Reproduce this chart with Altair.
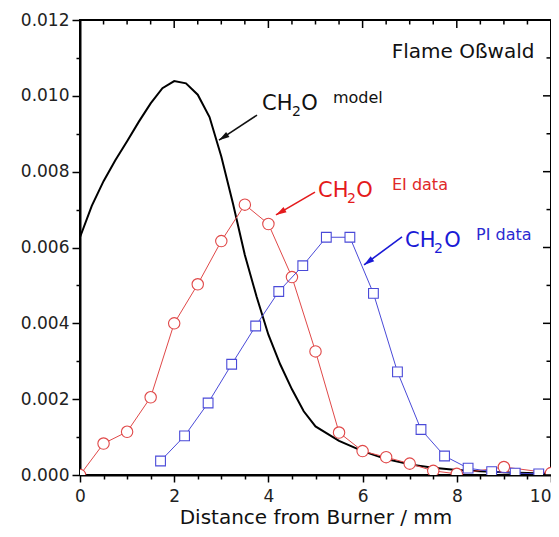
import altair as alt
import pandas as pd

# ---------------- data ----------------
model_x = [0, 0.25, 0.5, 0.75, 1.0, 1.25, 1.5, 1.75, 2.0, 2.25, 2.5, 2.75, 3.0, 3.25,
           3.5, 3.75, 4.0, 4.25, 4.5, 4.75, 5.0, 5.5, 6.0, 6.5, 7.0, 7.5, 8.0, 8.5,
           9.0, 9.5, 10.0]
model_y = [0.00627, 0.00710, 0.00775, 0.00830, 0.00880, 0.00932, 0.00980, 0.01020,
           0.01039, 0.01033, 0.01003, 0.00944, 0.00840, 0.00715, 0.00580, 0.00470,
           0.00370, 0.00292, 0.00226, 0.00168, 0.00128, 0.00090, 0.00063, 0.00042,
           0.00028, 0.00019, 0.00013, 0.00010, 0.00007, 0.00005, 0.00003]

ei_x = [0, 0.5, 1.0, 1.5, 2.0, 2.5, 3.0, 3.5, 4.0, 4.5, 5.0, 5.5, 6.0, 6.5, 7.0,
        7.5, 8.0, 9.0, 10.0]
ei_y = [0.0, 0.00083, 0.00114, 0.00205, 0.00400, 0.00503, 0.00617, 0.00713, 0.00662,
        0.00522, 0.00326, 0.00112, 0.00063, 0.00047, 0.00030, 0.00011, 0.00003,
        0.00021, 0.00005]

pi_x = [1.71, 2.22, 2.72, 3.22, 3.73, 4.22, 4.73, 5.23, 5.73, 6.23, 6.74, 7.24,
        7.74, 8.24, 8.74, 9.24, 9.74]
pi_y = [0.00037, 0.00103, 0.00190, 0.00292, 0.00393, 0.00484, 0.00552, 0.00627,
        0.00627, 0.00479, 0.00272, 0.00120, 0.00050, 0.00018, 0.00009, 0.00005,
        0.00003]

x_ticks = [0, 0.5, 1, 1.5, 2, 2.5, 3, 3.5, 4, 4.5, 5, 5.5, 6, 6.5, 7, 7.5, 8, 8.5,
           9, 9.5, 10]
x_major = [0, 2, 4, 6, 8, 10]
x_minor = [0.5, 1, 1.5, 2.5, 3, 3.5, 4.5, 5, 5.5, 6.5, 7, 7.5, 8.5, 9, 9.5]
y_ticks = [0, 0.001, 0.002, 0.003, 0.004, 0.005, 0.006, 0.007, 0.008, 0.009, 0.010,
           0.011, 0.012]
y_major = [0, 0.002, 0.004, 0.006, 0.008, 0.010, 0.012]
y_minor = [0.001, 0.003, 0.005, 0.007, 0.009, 0.011]

# annotation texts (data coordinates)
ann_text = ["Flame Oßwald",
            "CH", "2", "O", "model",
            "CH", "2", "O", "EI data",
            "CH", "2", "O", "PI data"]
ann_x = [6.62,
         3.864, 4.50, 4.70, 5.37,
         5.053, 5.669, 5.867, 6.624,
         6.90, 7.516, 7.736, 8.408]
ann_y = [0.0110,
         0.00962, 0.00946, 0.00962, 0.00980,
         0.00733, 0.00717, 0.00733, 0.00752,
         0.00601, 0.00585, 0.00601, 0.0062]
ann_size = [20, 21, 14, 21, 16, 21, 14, 21, 16, 21, 14, 21, 16]
ann_color = ["#111111", "#111111", "#111111", "#111111", "#111111",
             "#e41a1c", "#e41a1c", "#e41a1c", "#e02828",
             "#1a1ad6", "#1a1ad6", "#1a1ad6", "#2a2ad0"]

# arrows: tail -> tip (data coordinates), colour, head angle
arr_x = [3.758, 4.989, 6.837]
arr_y = [0.00949, 0.00746, 0.00628]
arr_x2 = [2.951, 4.161, 6.030]
arr_y2 = [0.00883, 0.00686, 0.00554]
arr_color = ["#111111", "#e41a1c", "#1a1ad6"]
arr_angle = [236.7, 239.5, 233.6]

RED = "#e04848"
BLUE = "#4a4ad8"
FONT = "DejaVu Sans"

# ---------------- encodings ----------------
x_enc = alt.X(
    "x:Q",
    scale=alt.Scale(domain=[0, 10], nice=False, zero=False),
    axis=alt.Axis(
        values=x_ticks,
        labelExpr="datum.value % 2 === 0 ? format(datum.value, 'd') : ''",
        labelAlign={"condition": {"test": "datum.value === 10", "value": "right"}, "value": "center"},
        tickSize={"condition": {"test": "datum.value % 2 === 0", "value": 7}, "value": 4},
        title="Distance from Burner / mm",
        titleFont=FONT, titleFontSize=20, titleFontWeight="normal",
        titleColor="#111111", titlePadding=3,
        labelFont=FONT, labelFontSize=17, labelColor="#222222", labelPadding=6,
        labelOverlap=False, labelFlush=False,
        grid=False, domainColor="black", domainWidth=2,
        tickColor="black", tickWidth=1.5,
    ),
)
y_enc = alt.Y(
    "y:Q",
    scale=alt.Scale(domain=[0, 0.012], nice=False, zero=False),
    axis=alt.Axis(
        values=y_ticks,
        labelExpr="round(datum.value * 1000) % 2 === 0 ? format(datum.value, '.3f') : ''",
        tickSize={"condition": {"test": "round(datum.value * 1000) % 2 === 0", "value": 8}, "value": 4},
        title=None,
        labelFont=FONT, labelFontSize=17, labelColor="#222222", labelPadding=3,
        labelOverlap=False, labelFlush=False,
        grid=False, domainColor="black", domainWidth=2,
        tickColor="black", tickWidth=1.5,
    ),
)

model_df = pd.DataFrame({"x": model_x, "y": model_y})
ei_df = pd.DataFrame({"x": ei_x, "y": ei_y})
pi_df = pd.DataFrame({"x": pi_x, "y": pi_y})
ann_df = pd.DataFrame({"x": ann_x, "y": ann_y, "t": ann_text, "fs": ann_size, "c": ann_color})
arr_df = pd.DataFrame({"x": arr_x, "y": arr_y, "x2": arr_x2, "y2": arr_y2,
                       "c": arr_color, "a": arr_angle})
head_df = pd.DataFrame({"x": arr_x2, "y": arr_y2, "c": arr_color, "a": arr_angle})

model = alt.Chart(model_df).mark_line(color="black", strokeWidth=2, clip=True).encode(x=x_enc, y=y_enc)

ei_line = alt.Chart(ei_df).mark_line(color=RED, strokeWidth=1, clip=True).encode(x=x_enc, y=y_enc)
ei_pts = alt.Chart(ei_df).mark_point(shape="circle", size=130, filled=True, fill="white",
                                     stroke=RED, strokeWidth=1.1, opacity=1, clip=True).encode(x=x_enc, y=y_enc)
pi_line = alt.Chart(pi_df).mark_line(color=BLUE, strokeWidth=1, clip=True).encode(x=x_enc, y=y_enc)
pi_pts = alt.Chart(pi_df).mark_point(shape="square", size=95, filled=True, fill="white",
                                     stroke=BLUE, strokeWidth=1.1, opacity=1, clip=True).encode(x=x_enc, y=y_enc)

texts = alt.Chart(ann_df).mark_text(align="left", baseline="alphabetic", font=FONT).encode(
    x=x_enc, y=y_enc, text="t:N",
    size=alt.Size("fs:Q", scale=None),
    color=alt.Color("c:N", scale=None),
)

arrows = alt.Chart(arr_df).mark_rule(strokeWidth=1.6).encode(
    x=x_enc, y=y_enc, x2="x2:Q", y2="y2:Q", color=alt.Color("c:N", scale=None)
)
heads = alt.Chart(head_df).mark_point(
    shape="M0,0 L-0.6,2.1 L0.6,2.1 Z", size=100, filled=True, opacity=1
).encode(
    x=x_enc, y=y_enc, color=alt.Color("c:N", scale=None), angle=alt.Angle("a:Q", scale=None)
)

top_major = alt.Chart(pd.DataFrame({"x": x_major})).mark_rule(color="black", strokeWidth=1.5).encode(
    x=x_enc, y=alt.value(0), y2=alt.value(8))
top_minor = alt.Chart(pd.DataFrame({"x": x_minor})).mark_rule(color="black", strokeWidth=1.5).encode(
    x=x_enc, y=alt.value(0), y2=alt.value(4.5))
right_major = alt.Chart(pd.DataFrame({"y": y_major})).mark_rule(color="black", strokeWidth=1.5).encode(
    y=y_enc, x=alt.value(471), x2=alt.value(463))
right_minor = alt.Chart(pd.DataFrame({"y": y_minor})).mark_rule(color="black", strokeWidth=1.5).encode(
    y=y_enc, x=alt.value(471), x2=alt.value(466.5))

chart = alt.layer(
    model, ei_line, ei_pts, pi_line, pi_pts, arrows, heads, texts,
    top_major, top_minor, right_major, right_minor,
).properties(
    width=471, height=455,
    padding={"left": 72, "top": 12, "right": 0, "bottom": 54},
    autosize=alt.AutoSizeParams(type="none"),
    background="white",
).configure_view(stroke="black", strokeWidth=2)

chart.save("out.html", embed_options={"renderer": "svg", "actions": False})
